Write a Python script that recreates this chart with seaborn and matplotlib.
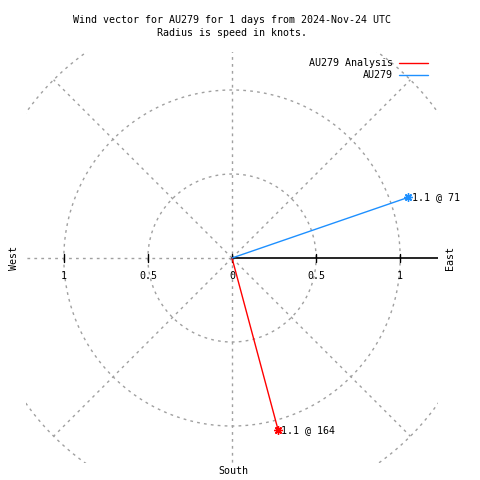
import numpy as np
import pandas as pd
import matplotlib
matplotlib.use("Agg")
import matplotlib.pyplot as plt
import seaborn as sns

# wind data
series = ["AU279 Analysis", "AU279"]
speeds = [1.06, 1.11]        # knots
directions = [165, 71]       # degrees, clockwise from north
point_labels = ["1.1 @ 164", "1.1 @ 71"]
colors = ["#ff0000", "#1e90ff"]
ring_radii = [0.5, 1.0, 1.5]
right_ticks = [0, 0.5, 1]
right_labels = ["0", "0.5", "1"]
left_ticks = [-0.5, -1]
left_labels = ["0.5", "1"]

sns.set_style("white")
plt.rcParams["font.family"] = ["DejaVu Sans Mono", "DejaVu Sans"]
plt.rcParams["text.color"] = "black"
fs = 7.2
grid = dict(color="#a0a0a0", lw=1, ls=(0, (2, 3)))

fig = plt.figure(figsize=(4.8, 4.8), dpi=100)
ax = fig.add_axes([26 / 480, 17 / 480, 412 / 480, 411 / 480])
ax.set_xlim(-1.225, 1.225)
ax.set_ylim(-1.22, 1.226)
ax.set_axis_off()

# polar grid
th = np.linspace(0, 2 * np.pi, 400)
for r in ring_radii:
    ax.plot(r * np.cos(th), r * np.sin(th), **grid)
for a in [45, 135, 225, 315]:
    ax.plot([0, 1.5 * np.cos(np.radians(a))], [0, 1.5 * np.sin(np.radians(a))], **grid)
ax.plot([0, 0], [-1.3, 1.3], **grid)
ax.plot([-1.3, 0], [0, 0], **grid)
ax.plot([0, 1.225], [0, 0], color="black", lw=1.2)

# ticks and labels along the horizontal axis
for t in right_ticks + left_ticks:
    ax.plot([t, t], [-0.022, 0.022], color="black", lw=1)
for t, lab in zip(right_ticks + left_ticks, right_labels + left_labels):
    ax.text(t, -0.105, lab, ha="center", va="center", fontsize=fs)

# wind vectors
rows = []
for s, sp, d in zip(series, speeds, directions):
    x = sp * np.sin(np.radians(d))
    y = sp * np.cos(np.radians(d))
    rows.append({"series": s, "x": 0.0, "y": 0.0, "order": 0})
    rows.append({"series": s, "x": x, "y": y, "order": 1})
df = pd.DataFrame(rows)
sns.lineplot(data=df, x="x", y="y", hue="series", hue_order=series,
             palette=colors, sort=False, estimator=None, units="series",
             lw=1, ax=ax, legend=True)

ends = df[df["order"] == 1]
for (_, row), c, lab in zip(ends.iterrows(), colors, point_labels):
    ax.plot(row["x"], row["y"], marker=(8, 2, 0), ms=6, color=c, mew=1)
    ax.text(row["x"] + 0.02, row["y"], lab, ha="left", va="center", fontsize=fs)

ax.legend(loc="upper right", bbox_to_anchor=(428 / 480, 1 - 58 / 480),
          bbox_transform=fig.transFigure, frameon=False, markerfirst=False,
          fontsize=fs, handlelength=2.9, handletextpad=0.6, labelspacing=0.25,
          borderpad=0, borderaxespad=0, labelcolor="black")

# direction labels and title
fig.text(14 / 480, 1 - 258 / 480, "West", rotation=90, ha="center", va="center", fontsize=fs)
fig.text(450 / 480, 1 - 258 / 480, "East", rotation=90, ha="center", va="center", fontsize=fs)
fig.text(233 / 480, 1 - 471 / 480, "South", ha="center", va="center", fontsize=fs)
fig.text(232 / 480, 1 - 20 / 480, "Wind vector for AU279 for 1 days from 2024-Nov-24 UTC",
         ha="center", va="center", fontsize=fs)
fig.text(232 / 480, 1 - 33 / 480, "Radius is speed in knots.", ha="center", va="center", fontsize=fs)

fig.savefig("out.png", dpi=100, facecolor="white")
